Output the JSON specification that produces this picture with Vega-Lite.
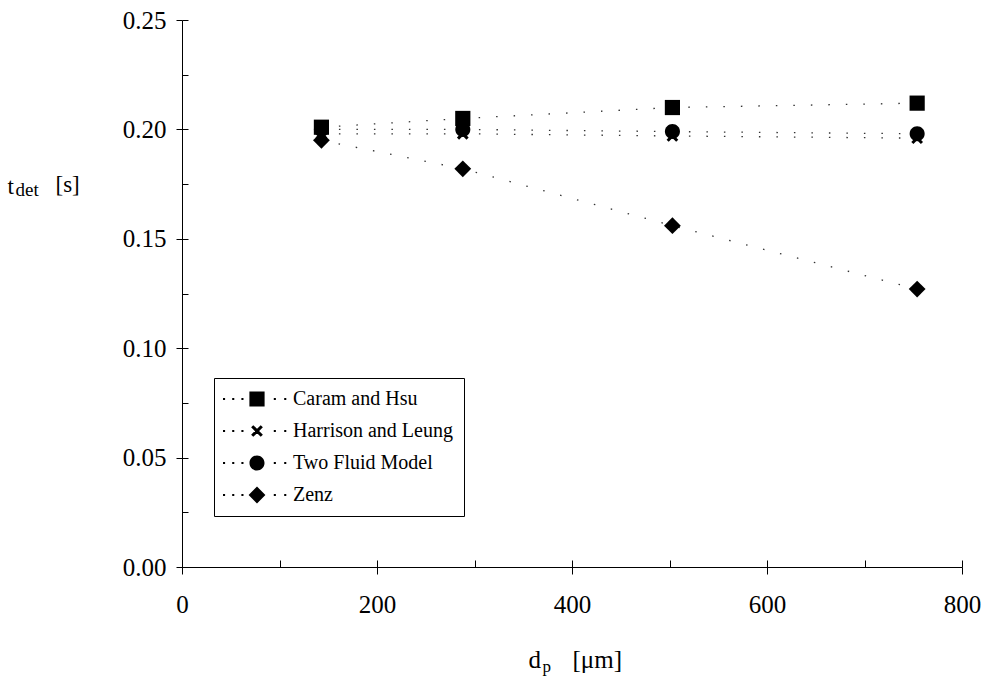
{
  "$schema": "https://vega.github.io/schema/vega-lite/v6.json",
  "autosize": "none",
  "width": 780,
  "height": 547,
  "padding": {"left": 182, "top": 20, "right": 28, "bottom": 114},
  "background": "white",
  "data": {
    "values": [
      {"series": "Harrison and Leung", "dp": 143, "tdet": 0.198},
      {"series": "Harrison and Leung", "dp": 288, "tdet": 0.198},
      {"series": "Harrison and Leung", "dp": 503, "tdet": 0.197},
      {"series": "Harrison and Leung", "dp": 754, "tdet": 0.196},
      {"series": "Two Fluid Model", "dp": 143, "tdet": 0.2},
      {"series": "Two Fluid Model", "dp": 288, "tdet": 0.2},
      {"series": "Two Fluid Model", "dp": 503, "tdet": 0.199},
      {"series": "Two Fluid Model", "dp": 754, "tdet": 0.198},
      {"series": "Caram and Hsu", "dp": 143, "tdet": 0.201},
      {"series": "Caram and Hsu", "dp": 288, "tdet": 0.205},
      {"series": "Caram and Hsu", "dp": 503, "tdet": 0.21},
      {"series": "Caram and Hsu", "dp": 754, "tdet": 0.212},
      {"series": "Zenz", "dp": 143, "tdet": 0.195},
      {"series": "Zenz", "dp": 288, "tdet": 0.182},
      {"series": "Zenz", "dp": 503, "tdet": 0.156},
      {"series": "Zenz", "dp": 754, "tdet": 0.127}
    ]
  },
  "layer": [
    {
      "mark": {"type": "line", "color": "#333", "strokeWidth": 1.3, "strokeDash": [1.5, 16]},
      "encoding": {
        "x": {
          "field": "dp", "type": "quantitative",
          "scale": {"domain": [0, 800], "nice": false, "zero": false},
          "axis": {
            "orient": "bottom", "values": [0, 200, 400, 600, 800], "tickSize": 7,
            "labelPadding": 18, "labelFlush": false, "grid": false,
            "title": "d", "titleX": 346, "titleY": 100,
            "titleAlign": "left", "titleBaseline": "alphabetic", "titleAngle": 0
          }
        },
        "y": {
          "field": "tdet", "type": "quantitative",
          "scale": {"domain": [0, 0.25], "nice": false, "zero": false},
          "axis": {
            "orient": "left", "values": [0, 0.05, 0.1, 0.15, 0.2, 0.25], "format": ".2f",
            "tickSize": 6, "labelPadding": 10, "labelFlush": false, "grid": false,
            "title": "t", "titleX": -175, "titleY": 173, "titleFontSize": 23,
            "titleAlign": "left", "titleBaseline": "alphabetic", "titleAngle": 0
          }
        },
        "detail": {"field": "series"}
      }
    },
    {
      "transform": [{"filter": "datum.series === 'Harrison and Leung'"}],
      "mark": {"type": "point", "filled": true, "color": "black", "opacity": 1, "size": 256},
      "encoding": {
        "x": {
          "field": "dp", "type": "quantitative",
          "axis": {
            "orient": "bottom", "domain": false, "ticks": false, "labels": false, "grid": false,
            "title": "[μm]", "titleX": 390, "titleY": 100,
            "titleAlign": "left", "titleBaseline": "alphabetic", "titleAngle": 0
          }
        },
        "y": {
          "field": "tdet", "type": "quantitative",
          "axis": {
            "orient": "left", "domain": false, "ticks": false, "labels": false, "grid": false,
            "title": "[s]", "titleX": -127, "titleY": 171, "titleFontSize": 23,
            "titleAlign": "left", "titleBaseline": "alphabetic", "titleAngle": 0
          }
        },
        "shape": {"value": "M-0.466,-0.734L0.734,0.466L0.466,0.734L-0.734,-0.466ZM0.734,-0.466L-0.466,0.734L-0.734,0.466L0.466,-0.734Z"}
      }
    },
    {
      "transform": [{"filter": "datum.series !== 'Harrison and Leung'"}],
      "mark": {"type": "point", "filled": true, "opacity": 1, "size": 256},
      "encoding": {
        "x": {
          "field": "dp", "type": "quantitative",
          "axis": {
            "orient": "bottom", "values": [0, 100, 200, 300, 400, 500, 600, 700, 800],
            "tickSize": -7, "domain": false, "labels": false, "grid": false,
            "title": "p", "titleFontSize": 17, "titleX": 360, "titleY": 104,
            "titleAlign": "left", "titleBaseline": "alphabetic", "titleAngle": 0
          }
        },
        "y": {
          "field": "tdet", "type": "quantitative",
          "axis": {
            "orient": "left", "values": [0, 0.025, 0.05, 0.075, 0.1, 0.125, 0.15, 0.175, 0.2, 0.225, 0.25],
            "tickSize": -6, "domain": false, "labels": false, "grid": false,
            "title": "det", "titleFontSize": 19, "titleX": -167, "titleY": 175,
            "titleAlign": "left", "titleBaseline": "alphabetic", "titleAngle": 0
          }
        },
        "shape": {
          "field": "series", "type": "nominal",
          "scale": {
            "range": [
              "M-0.95,-0.95H0.95V0.95H-0.95Z",
              "M0.94,0A0.94,0.94,0,1,1,-0.94,0A0.94,0.94,0,1,1,0.94,0Z",
              "M0,-1.05L1.05,0L0,1.05L-1.05,0Z"
            ]
          },
          "legend": null
        },
        "color": {
          "field": "series", "type": "nominal",
          "scale": {
            "domain": ["Caram and Hsu", "Harrison and Leung", "Two Fluid Model", "Zenz"],
            "range": ["black", "black", "black", "black"]
          },
          "legend": {
            "title": null,
            "orient": "none",
            "legendX": 32,
            "legendY": 358,
            "padding": 11,
            "rowPadding": 12,
            "symbolOffset": 22,
            "labelOffset": 26,
            "symbolSize": 256,
            "symbolStrokeWidth": 0,
            "symbolType": {"expr": "(datum.value === 'Caram and Hsu' ? 'M-0.95,-0.95H0.95V0.95H-0.95Z' : datum.value === 'Harrison and Leung' ? 'M-0.466,-0.734L0.734,0.466L0.466,0.734L-0.734,-0.466ZM0.734,-0.466L-0.466,0.734L-0.734,0.466L0.466,-0.734Z' : datum.value === 'Two Fluid Model' ? 'M0.94,0A0.94,0.94,0,1,1,-0.94,0A0.94,0.94,0,1,1,0.94,0Z' : 'M0,-1.05L1.05,0L0,1.05L-1.05,0Z') + 'M-4.25,-0.13h0.26v0.26h-0.26zM-3.1,-0.13h0.26v0.26h-0.26zM-1.95,-0.13h0.26v0.26h-0.26zM2.1,-0.13h0.26v0.26h-0.26zM3.4,-0.13h0.26v0.26h-0.26z'"}
          }
        }
      }
    }
  ],
  "resolve": {"axis": {"x": "independent", "y": "independent"}},
  "config": {
    "view": {"stroke": null},
    "font": "Liberation Serif",
    "axis": {
      "domainColor": "black", "domainWidth": 1, "tickColor": "black", "tickWidth": 1,
      "labelFont": "Liberation Serif", "labelFontSize": 25, "labelColor": "black",
      "titleFont": "Liberation Serif", "titleFontSize": 25, "titleColor": "black", "titleFontWeight": "normal"
    },
    "legend": {
      "labelFont": "Liberation Serif", "labelFontSize": 20, "labelColor": "black",
      "strokeColor": "black", "fillColor": "white", "labelLimit": 400
    }
  }
}
